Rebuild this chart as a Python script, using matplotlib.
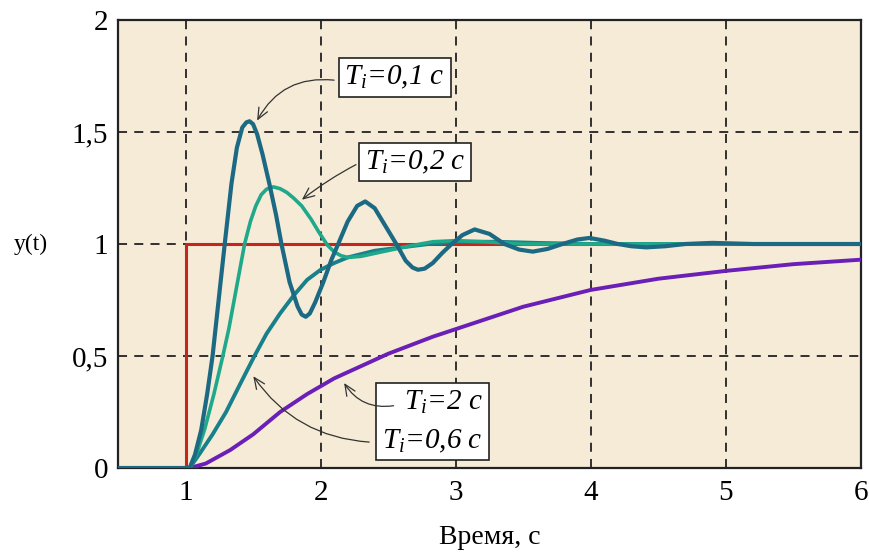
import matplotlib
matplotlib.use("Agg")
import matplotlib.pyplot as plt

# ---- data ----
t_step = [0.5, 1.0, 1.0, 6.0]
y_step = [0.0, 0.0, 1.0, 1.0]

t_01 = [0.5, 1.03, 1.07, 1.116, 1.16, 1.20, 1.245, 1.29, 1.34, 1.38, 1.42, 1.45, 1.474, 1.50,
        1.53, 1.57, 1.62, 1.67, 1.71, 1.77, 1.83, 1.86, 1.89, 1.92, 1.96, 2.02, 2.08, 2.13,
        2.2, 2.27, 2.33, 2.4, 2.48, 2.56, 2.63, 2.68, 2.72, 2.77, 2.83, 2.9, 2.97, 3.05, 3.14,
        3.25, 3.36, 3.47, 3.57, 3.68, 3.79, 3.9, 3.99, 4.1, 4.2, 4.3, 4.41, 4.55, 4.7, 4.9,
        5.2, 6.0]
y_01 = [0.0, 0.0, 0.06, 0.17, 0.33, 0.5, 0.75, 1.0, 1.27, 1.43, 1.52, 1.543, 1.548, 1.535,
        1.49, 1.40, 1.27, 1.13, 1.0, 0.83, 0.72, 0.685, 0.675, 0.69, 0.74, 0.83, 0.93, 1.0,
        1.1, 1.17, 1.19, 1.16, 1.08, 1.0, 0.925, 0.895, 0.885, 0.89, 0.915, 0.96, 1.0, 1.04,
        1.065, 1.045, 1.0, 0.975, 0.966, 0.978, 1.0, 1.02, 1.027, 1.015, 1.0, 0.99, 0.985,
        0.99, 1.0, 1.005, 1.0, 1.0]

t_02 = [0.5, 1.03, 1.08, 1.14, 1.21, 1.276, 1.32, 1.36, 1.40, 1.437, 1.48, 1.52, 1.56, 1.6,
        1.65, 1.7, 1.75, 1.8, 1.86, 1.93, 1.99, 2.05, 2.1, 2.15, 2.2, 2.3, 2.46, 2.65, 2.83,
        3.0, 3.2, 3.5, 6.0]
y_02 = [0.0, 0.0, 0.06, 0.17, 0.33, 0.5, 0.62, 0.75, 0.88, 1.0, 1.1, 1.17, 1.22, 1.245,
        1.255, 1.247, 1.23, 1.205, 1.17, 1.11, 1.05, 0.995, 0.965, 0.948, 0.94, 0.945, 0.966,
        0.99, 1.01, 1.015, 1.01, 1.0, 1.0]

t_06 = [0.5, 1.03, 1.1, 1.2, 1.3, 1.4, 1.51, 1.6, 1.7, 1.8, 1.9, 2.0, 2.1, 2.2, 2.4, 2.6,
        2.8, 3.0, 3.3, 3.6, 4.0, 6.0]
y_06 = [0.0, 0.0, 0.06, 0.15, 0.25, 0.37, 0.5, 0.6, 0.69, 0.77, 0.84, 0.885, 0.915, 0.94,
        0.97, 0.985, 1.0, 1.01, 1.01, 1.005, 1.0, 1.0]

t_2 = [1.03, 1.15, 1.33, 1.5, 1.7, 1.9, 2.1, 2.5, 2.83, 3.0, 3.5, 4.0, 4.5, 5.0, 5.5, 6.0]
y_2 = [0.0, 0.02, 0.08, 0.15, 0.25, 0.33, 0.40, 0.51, 0.586, 0.62, 0.72, 0.795, 0.845,
       0.88, 0.91, 0.93]

x_ticks = [1, 2, 3, 4, 5, 6]
x_ticklabels = ["1", "2", "3", "4", "5", "6"]
y_ticks = [0, 0.5, 1, 1.5, 2]
y_ticklabels = ["0", "0,5", "1", "1,5", "2"]

label_01 = r"$T_i$=0,1 c"
label_02 = r"$T_i$=0,2 c"
label_2 = r"$T_i$=2 c"
label_06 = r"$T_i$=0,6 c"

# ---- styling ----
plt.rcParams["font.family"] = ["Liberation Serif", "DejaVu Serif"]
plt.rcParams["mathtext.fontset"] = "custom"
plt.rcParams["mathtext.it"] = "Liberation Serif:italic"
plt.rcParams["mathtext.rm"] = "Liberation Serif"

fig = plt.figure(figsize=(8.7, 5.54), dpi=100)
ax = fig.add_axes([118 / 870, 86 / 554, 743 / 870, 448 / 554])
ax.set_facecolor("#f6ebd7")

ax.set_xlim(0.5, 6)
ax.set_ylim(0, 2)
ax.set_xticks(x_ticks)
ax.set_xticklabels(x_ticklabels)
ax.set_yticks(y_ticks)
ax.set_yticklabels(y_ticklabels)
ax.tick_params(length=0, labelsize=21)
ax.tick_params(axis="x", pad=9)
ax.tick_params(axis="y", pad=7)
ax.grid(True, color="#222222", linestyle=(0, (5, 4)), linewidth=1.3)
ax.set_axisbelow(True)
for s in ax.spines.values():
    s.set_linewidth(1.6)
    s.set_color("#222222")

ax.plot(t_step, y_step, color="#c4261f", lw=2.2, zorder=2)
ax.plot(t_2, y_2, color="#6a1fb6", lw=2.8, zorder=3)
ax.plot(t_06, y_06, color="#18808a", lw=2.8, zorder=4)
ax.plot(t_02, y_02, color="#1fa88a", lw=2.6, zorder=5)
ax.plot(t_01, y_01, color="#1c6983", lw=3.0, zorder=6)

ax.set_xlabel("Время, с", fontsize=20, labelpad=13)
ax.set_ylabel("y(t)", fontsize=17, rotation=0, ha="center", va="center")
ax.yaxis.set_label_coords(-0.117, 0.5)

box = dict(boxstyle="square,pad=0.2", fc="white", ec="#222222", lw=1.2)
txt_kw = dict(fontsize=21, style="italic", zorder=10)
arr = dict(arrowstyle="->,head_length=0.8,head_width=0.35", color="#333333", lw=0.9)

ax.text(2.548, 1.743, label_01, ha="center", va="center", bbox=box, **txt_kw)
ax.annotate("", xy=(1.52, 1.54), xytext=(2.12, 1.73),
            arrowprops=dict(connectionstyle="arc3,rad=0.35", **arr), zorder=9)

ax.text(2.70, 1.366, label_02, ha="center", va="center", bbox=box, **txt_kw)
ax.annotate("", xy=(1.845, 1.19), xytext=(2.28, 1.36),
            arrowprops=dict(connectionstyle="arc3,rad=0.05", **arr), zorder=9)

ax.text(3.20, 0.207, label_2 + "\n" + label_06, ha="right", va="center",
        multialignment="right", bbox=dict(boxstyle="square,pad=0.2", fc="white",
                                           ec="#222222", lw=1.2),
        linespacing=1.55, **txt_kw)
ax.annotate("", xy=(2.163, 0.39), xytext=(2.56, 0.28),
            arrowprops=dict(connectionstyle="arc3,rad=-0.35", **arr), zorder=11)
ax.annotate("", xy=(1.49, 0.42), xytext=(2.38, 0.115),
            arrowprops=dict(connectionstyle="arc3,rad=-0.25", **arr), zorder=11)

fig.savefig("out.png", dpi=100, facecolor="white")
